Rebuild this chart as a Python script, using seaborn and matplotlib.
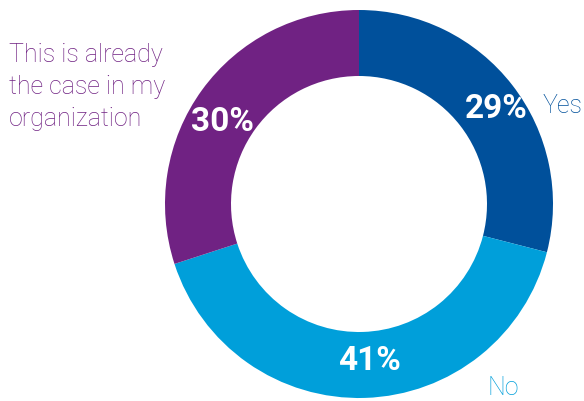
import matplotlib
matplotlib.use("Agg")
import matplotlib.pyplot as plt
import seaborn as sns

# Survey answers, clockwise from 12 o'clock
categories = ["Yes", "No", "This is already\nthe case in my\norganization"]
shares = [29, 41, 30]
colors = ["#00509B", "#009FDA", "#702283"]

sns.set_theme(style="white")
plt.rcParams["font.family"] = ["Roboto", "DejaVu Sans"]

fig = plt.figure(figsize=(5.84, 4.01), dpi=100)
ax = fig.add_axes([0, 0, 1, 1])

wedges, _, pct_texts = ax.pie(
    shares,
    colors=sns.color_palette(colors),
    startangle=90,
    counterclock=False,
    center=(359, 197),
    radius=194,
    wedgeprops=dict(width=66, linewidth=0),
    autopct=lambda p: f"{p:.0f}%",
    pctdistance=0.86,
    textprops=dict(color="white", fontsize=24, fontweight="bold"),
)

# small nudges so the percentages sit a bit off the ring's midline
nudges = [(5, -7), (5, 10), (-2, -16)]
for t, (dx, dy) in zip(pct_texts, nudges):
    x, y = t.get_position()
    t.set_position((x + dx, y + dy))

ax.set_xlim(0, 584)
ax.set_ylim(0, 401)
ax.set_aspect("equal")
ax.axis("off")

# Category captions next to their segments
ax.text(543, 295, categories[0], color=colors[0], fontsize=18,
        fontweight="light", va="center", ha="left")
ax.text(487, 13, categories[1], color=colors[1], fontsize=18,
        fontweight="light", va="center", ha="left")
ax.text(9, 314, categories[2], color=colors[2], fontsize=18,
        fontweight="light", va="center", ha="left", linespacing=1.42)

fig.savefig("out.png", dpi=100)
